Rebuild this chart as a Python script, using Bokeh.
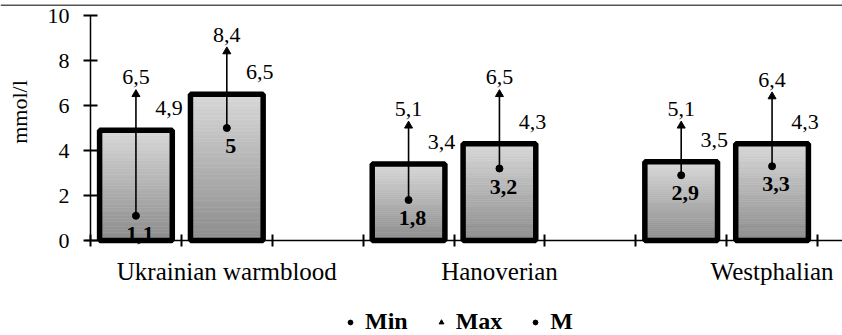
import numpy as np
from bokeh.plotting import figure
from bokeh.models import (Range1d, FixedTicker, Legend, LegendItem,
                          ColumnDataSource, BoxAnnotation)
from bokeh.core.properties import value
from bokeh.embed import file_html
from bokeh.resources import INLINE

# ---- data ----
groups = ["Ukrainian warmblood", "Hanoverian", "Westphalian"]
bar_group = [0, 0, 1, 1, 2, 2]
bar_in_group = [0, 1, 0, 1, 0, 1]
M_vals = [4.9, 6.5, 3.4, 4.3, 3.5, 4.3]
min_vals = [1.1, 5.0, 1.8, 3.2, 2.9, 3.3]
max_vals = [6.5, 8.4, 5.1, 6.5, 5.1, 6.4]
y_ticks = [0, 2, 4, 6, 8, 10]
y_label = "mmol/l"
legend_labels = ["Min", "Max", "M"]

SERIF = "Liberation Serif"
SLOTS = 3  # slots per group (2 bars + gap)

# ---- layout (pixels) ----
W, H = 842, 335
AXIS_X_PX = 90                   # pixel column of the value axis
Y0_PX, Y10_PX = 240, 15          # pixel rows of y=0 and y=10
SLOT_PX = 90.875
PX_PER_UNIT = (Y0_PX - Y10_PX) / (y_ticks[-1] - y_ticks[0])


def fmt(v):
    return f"{v:g}".replace(".", ",")


x = [SLOTS * g + j + 0.5 for g, j in zip(bar_group, bar_in_group)]
bw = 0.8

src = ColumnDataSource(dict(
    x=x, m=M_vals, mn=min_vals, mx=max_vals,
    left=[v - bw / 2 for v in x], right=[v + bw / 2 for v in x],
    m_lbl=[fmt(v) for v in M_vals], mn_lbl=[fmt(v) for v in min_vals],
    mx_lbl=[fmt(v) for v in max_vals],
))

y_top = y_ticks[-1] + Y10_PX / PX_PER_UNIT
y_bot = y_ticks[0] - (H - Y0_PX) / PX_PER_UNIT
x_start = -AXIS_X_PX / SLOT_PX
x_end = (W - AXIS_X_PX) / SLOT_PX

p = figure(width=W, height=H, output_backend="svg", toolbar_location=None,
           x_range=Range1d(x_start, x_end), y_range=Range1d(y_bot, y_top),
           x_axis_location="above", y_axis_location="left",
           min_border_left=0, min_border_top=0, min_border_right=0,
           min_border_bottom=0)
p.grid.visible = False
p.outline_line_color = None
p.background_fill_color = "white"

# thin chart-area border at the very top
p.add_layout(BoxAnnotation(left=0, right=W, top=4, bottom=5.5,
                           left_units="canvas", right_units="canvas",
                           top_units="canvas", bottom_units="canvas",
                           fill_color="#555555", fill_alpha=1,
                           line_color=None))

# gradient bars built from slices
N = 40
top_c = np.array([0xd8, 0xd8, 0xd8], dtype=float)
bot_c = np.array([0x8c, 0x8c, 0x8c], dtype=float)
sl = dict(left=[], right=[], bottom=[], top=[], color=[])
for xi, m in zip(x, M_vals):
    for k in range(N):
        t = (k + 0.5) / N
        c = bot_c + (top_c - bot_c) * t
        sl["left"].append(xi - bw / 2)
        sl["right"].append(xi + bw / 2)
        sl["bottom"].append(m * k / N)
        sl["top"].append(m * (k + 1) / N)
        sl["color"].append("#%02x%02x%02x" % tuple(int(round(v)) for v in c))
p.quad(left="left", right="right", bottom="bottom", top="top",
       fill_color="color", line_color="color", line_width=0.6,
       source=ColumnDataSource(sl))

# bar outlines
p.quad(left="left", right="right", bottom=0, top="m", fill_color=None,
       line_color="black", line_width=5.5, source=src)

# whiskers
p.segment(x0="x", y0="mn", x1="x", y1="mx", line_color="black",
          line_width=1.6, source=src)
r_min = p.scatter("x", "mn", marker="circle", size=7, color="black", source=src)
r_max = p.scatter("x", "mx", marker="triangle", size=8, color="black", source=src)
r_m = p.scatter("x", "m", marker="circle", size=4, color="black", source=src)

# value labels
p.text("x", "mx", text="mx_lbl", source=src, text_font=value(SERIF),
       text_font_size="22px", text_align="center", text_baseline="middle",
       y_offset=-17, text_color="black")
p.text("x", "m", text="m_lbl", source=src, text_font=value(SERIF),
       text_font_size="22px", text_align="center", text_baseline="middle",
       x_offset=33, y_offset=-22, text_color="black")
p.text("x", "mn", text="mn_lbl", source=src, text_font=value(SERIF),
       text_font_size="22px", text_font_style="bold", text_align="center",
       text_baseline="middle", x_offset=4, y_offset=18, text_color="black")

# value axis (ticks only), drawn at x=0
ya = p.yaxis[0]
ya.fixed_location = 0
ya.bounds = (y_ticks[0], y_ticks[-1])
ya.ticker = FixedTicker(ticks=[], minor_ticks=y_ticks)
ya.major_tick_in = 0
ya.major_tick_out = 0
ya.minor_tick_in = 7
ya.minor_tick_out = 7
ya.minor_tick_line_width = 2
ya.minor_tick_line_color = "black"
ya.axis_line_width = 1.5

# value tick labels and axis title
p.text(x=[0] * len(y_ticks), y=y_ticks, text=[str(t) for t in y_ticks],
       text_font=value(SERIF), text_font_size="22px", text_align="right",
       text_baseline="middle", x_offset=-21, text_color="black")
p.text(x=[0], y=[(y_ticks[0] + y_ticks[-1]) / 2], text=[y_label],
       angle=np.pi / 2, text_font=value(SERIF), text_font_size="22px",
       text_align="center", text_baseline="middle", x_offset=-71,
       y_offset=-16, text_color="black")

# category axis drawn at y=0: slot boundaries as ticks
xa = p.xaxis[0]
slot_ticks = list(range(SLOTS * len(groups)))
xa.fixed_location = 0
xa.bounds = (-5 / SLOT_PX, x_end)
xa.ticker = FixedTicker(ticks=[], minor_ticks=slot_ticks)
xa.major_tick_in = 0
xa.major_tick_out = 0
xa.minor_tick_in = 6
xa.minor_tick_out = 6
xa.minor_tick_line_width = 2
xa.minor_tick_line_color = "black"
xa.axis_line_width = 1.5

# group names under the axis
centers = [SLOTS * g + SLOTS / 2 for g in range(len(groups))]
p.text(x=centers, y=[0] * len(groups), text=groups, text_font=value(SERIF),
       text_font_size="25px", text_align="center", text_baseline="middle",
       y_offset=31, text_color="black")

legend = Legend(items=[LegendItem(label=legend_labels[0], renderers=[r_min]),
                       LegendItem(label=legend_labels[1], renderers=[r_max]),
                       LegendItem(label=legend_labels[2], renderers=[r_m])],
                orientation="horizontal", location=(344, 0),
                label_text_font=SERIF, label_text_font_style="bold",
                label_text_font_size="24px", label_text_color="black",
                glyph_width=12, glyph_height=12, spacing=27, label_standoff=9,
                border_line_color=None, background_fill_alpha=0,
                padding=0, margin=0)
p.add_layout(legend, "center")

open("out.html", "w").write(file_html(p, INLINE))
